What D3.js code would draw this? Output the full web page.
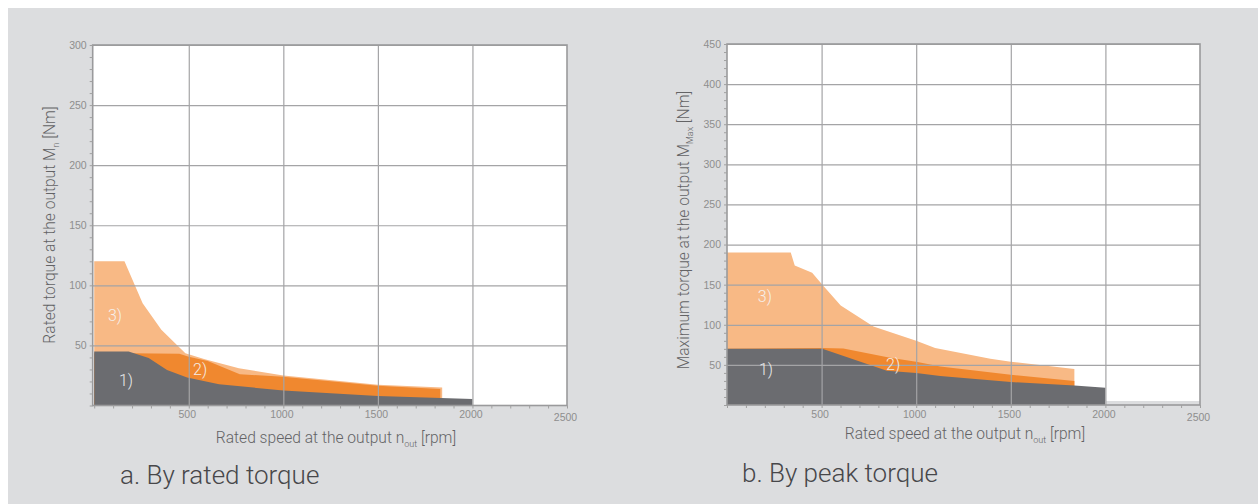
<!DOCTYPE html>
<html>
<head>
<meta charset="utf-8">
<script src="https://cdn.jsdelivr.net/npm/d3@7"></script>
<style>
  body { margin: 0; background: #fff; }
  svg { display: block; font-family: 'Roboto Light', Roboto, 'Open Sans', sans-serif; }
  .tick text { fill: #8e8e8e; font-size: 10.5px; }
  .title { fill: #636365; font-size: 15.6px; font-weight: 300; }
  .sub { fill: #47474a; font-size: 26px; font-weight: 300; }
  .tag { fill: #f6f6f6; font-size: 16px; font-weight: 300; opacity: .9; }
</style>
</head>
<body>
<svg width="1258" height="504"></svg>
<script>
  // x ticks shared by both charts
  const speedTicks = [500, 1000, 1500, 2000, 2500];

  // a. rated torque
  const ratedTicks = [50, 100, 150, 200, 250, 300];
  const ratedSpeed1 = [0, 182, 288, 385, 491, 660, 1000, 1500, 2000];
  const ratedTorque1 = [45, 45, 39.5, 29.6, 23.2, 17.7, 12.5, 8, 5.5];
  const ratedSpeed2 = [0, 182, 450, 500, 600, 770, 1000, 1500, 1830];
  const ratedTorque2 = [43.5, 43.5, 43, 40.5, 37, 26, 24, 16.5, 13.7];
  const ratedSpeed3 = [0, 160, 256, 355, 482, 585, 765, 1000, 1500, 1840];
  const ratedTorque3 = [120, 120, 85, 63, 43.5, 38.5, 31, 25, 17.3, 15];
  const ratedTags = [['3)', 110, 75], ['1)', 168, 21], ['2)', 560, 30]];

  // b. peak torque
  const peakTicks = [50, 100, 150, 200, 250, 300, 350, 400, 450];
  const peakSpeed1 = [0, 504, 845, 1000, 1127, 1500, 1836, 2000];
  const peakTorque1 = [70, 70, 42.7, 40, 36, 28.6, 24.4, 21.4];
  const peakSpeed2 = [0, 504, 615, 862, 1000, 1127, 1500, 1836];
  const peakTorque2 = [70, 71, 70.5, 59, 54, 48, 37.6, 30];
  const peakSpeed3 = [0, 337, 358, 450, 504, 601, 774, 1000, 1100, 1392, 1500, 1836];
  const peakTorque3 = [190, 190, 174, 165, 150, 124, 98, 80, 71, 57.6, 54, 45];
  const peakTags = [['3)', 200, 135], ['1)', 206, 45], ['2)', 878, 51]];

  const colors = ['#6b6c70', '#f0882f', '#f8b985'];

  const svg = d3.select('svg');

  svg.append('rect')
    .attr('x', 8).attr('y', 8)
    .attr('width', 1250).attr('height', 496)
    .attr('fill', '#dcdddf');

  const zip = (xs, ys) => xs.map((x, i) => [x, ys[i]]);

  const drawChart = (cfg) => {
    const x = d3.scaleLinear().domain([cfg.xMin, 2500]).range([cfg.left, cfg.right]);
    const y = d3.scaleLinear().domain([0, cfg.yMax]).range([cfg.bottom, cfg.top]);
    const w = cfg.right - cfg.left;
    const h = cfg.bottom - cfg.top;

    const g = svg.append('g');

    g.append('rect')
      .attr('x', cfg.left).attr('y', cfg.top)
      .attr('width', w).attr('height', h)
      .attr('fill', '#fff');

    const area = d3.area()
      .x(d => x(d[0]))
      .y0(y(0))
      .y1(d => y(d[1]));

    // light first, dark on top
    cfg.series.slice().reverse().forEach((s, i) => {
      g.append('path')
        .datum(zip(s[0], s[1]))
        .attr('fill', colors[cfg.series.length - 1 - i])
        .attr('d', area);
    });

    if (cfg.strip) {
      g.append('rect')
        .attr('x', x(2000)).attr('y', y(5))
        .attr('width', x(2500) - x(2000)).attr('height', y(0) - y(5))
        .attr('fill', '#dcdddf');
    }

    // grid
    const gx = g.append('g')
      .attr('transform', `translate(0,${cfg.bottom})`)
      .call(d3.axisBottom(x).tickValues(speedTicks.slice(0, -1)).tickSize(-h).tickFormat(''));
    const gy = g.append('g')
      .attr('transform', `translate(${cfg.left},0)`)
      .call(d3.axisLeft(y).tickValues(cfg.yTicks).tickSize(-w).tickFormat(''));
    [gx, gy].forEach(a => {
      a.select('.domain').remove();
      a.selectAll('line').attr('stroke', '#a4a4a6').attr('stroke-width', 1.2);
    });

    // frame
    g.append('rect')
      .attr('x', cfg.left).attr('y', cfg.top)
      .attr('width', w).attr('height', h)
      .attr('fill', 'none')
      .attr('stroke', '#9a9a9c')
      .attr('stroke-width', 1.6);

    // minor ticks
    const mx = g.append('g')
      .attr('transform', `translate(0,${cfg.bottom})`)
      .call(d3.axisBottom(x).tickValues(d3.range(0, 2501, 100)).tickSize(3).tickFormat(''));
    const my = g.append('g')
      .attr('transform', `translate(${cfg.left},0)`)
      .call(d3.axisLeft(y).tickValues(d3.range(0, cfg.yMax + 1, 10)).tickSize(3).tickFormat(''));
    [mx, my].forEach(a => {
      a.select('.domain').remove();
      a.selectAll('line').attr('stroke', '#a0a0a0');
    });

    // labels
    const lx = g.append('g')
      .attr('transform', `translate(0,${cfg.bottom + 4})`)
      .call(d3.axisBottom(x).tickValues(speedTicks).tickSize(0).tickFormat(d3.format('d')));
    lx.select('.domain').remove();
    lx.selectAll('text').attr('dy', '0.85em')
      .attr('dx', -2)
      .attr('y', d => d === 2500 ? 3 : 0);

    const ly = g.append('g')
      .attr('transform', `translate(${cfg.left - 3},0)`)
      .call(d3.axisLeft(y).tickValues(cfg.yTicks).tickSize(0).tickFormat(d3.format('d')));
    ly.select('.domain').remove();

    // area tags
    g.selectAll('.tag').data(cfg.tags).enter().append('text')
      .attr('class', 'tag')
      .attr('x', d => x(d[1]))
      .attr('y', d => y(d[2]))
      .attr('text-anchor', 'middle')
      .attr('dy', '0.35em')
      .text(d => d[0]);

    // x title
    const xt = g.append('text')
      .attr('class', 'title')
      .attr('x', cfg.xTitleX).attr('y', cfg.xTitleY)
      .attr('text-anchor', 'middle');
    xt.append('tspan').text('Rated speed at the output n');
    xt.append('tspan').attr('font-size', 9).attr('dy', 4).text('out');
    xt.append('tspan').attr('dy', -4).text(' [rpm]');

    // y title
    const yt = g.append('text')
      .attr('class', 'title')
      .attr('transform', `translate(${cfg.yTitleX},${cfg.yTitleY}) rotate(-90)`)
      .attr('text-anchor', 'middle');
    yt.append('tspan').text(cfg.yTitle);
    yt.append('tspan').attr('font-size', 9).attr('dy', 4).text(cfg.ySub);
    yt.append('tspan').attr('dy', -4).text(' [Nm]');

    g.append('text')
      .attr('class', 'sub')
      .attr('x', cfg.subX).attr('y', cfg.subY)
      .text(cfg.sub);
  };

  drawChart({
    left: 92.7, right: 567, top: 45, bottom: 405.5, xMin: -8,
    yMax: 300, yTicks: ratedTicks,
    series: [[ratedSpeed1, ratedTorque1], [ratedSpeed2, ratedTorque2], [ratedSpeed3, ratedTorque3]],
    tags: ratedTags,
    xTitleX: 336, xTitleY: 443,
    yTitleX: 55, yTitleY: 225,
    yTitle: 'Rated torque at the output M', ySub: 'n',
    sub: 'a. By rated torque', subX: 120, subY: 484
  });

  drawChart({
    left: 727, right: 1200, top: 44, bottom: 405, xMin: 0,
    yMax: 450, yTicks: peakTicks,
    series: [[peakSpeed1, peakTorque1], [peakSpeed2, peakTorque2], [peakSpeed3, peakTorque3]],
    tags: peakTags, strip: true,
    xTitleX: 965, xTitleY: 439,
    yTitleX: 689, yTitleY: 230,
    yTitle: 'Maximum torque at the output M', ySub: 'Max',
    sub: 'b. By peak torque', subX: 742, subY: 482
  });
</script>
</body>
</html>
